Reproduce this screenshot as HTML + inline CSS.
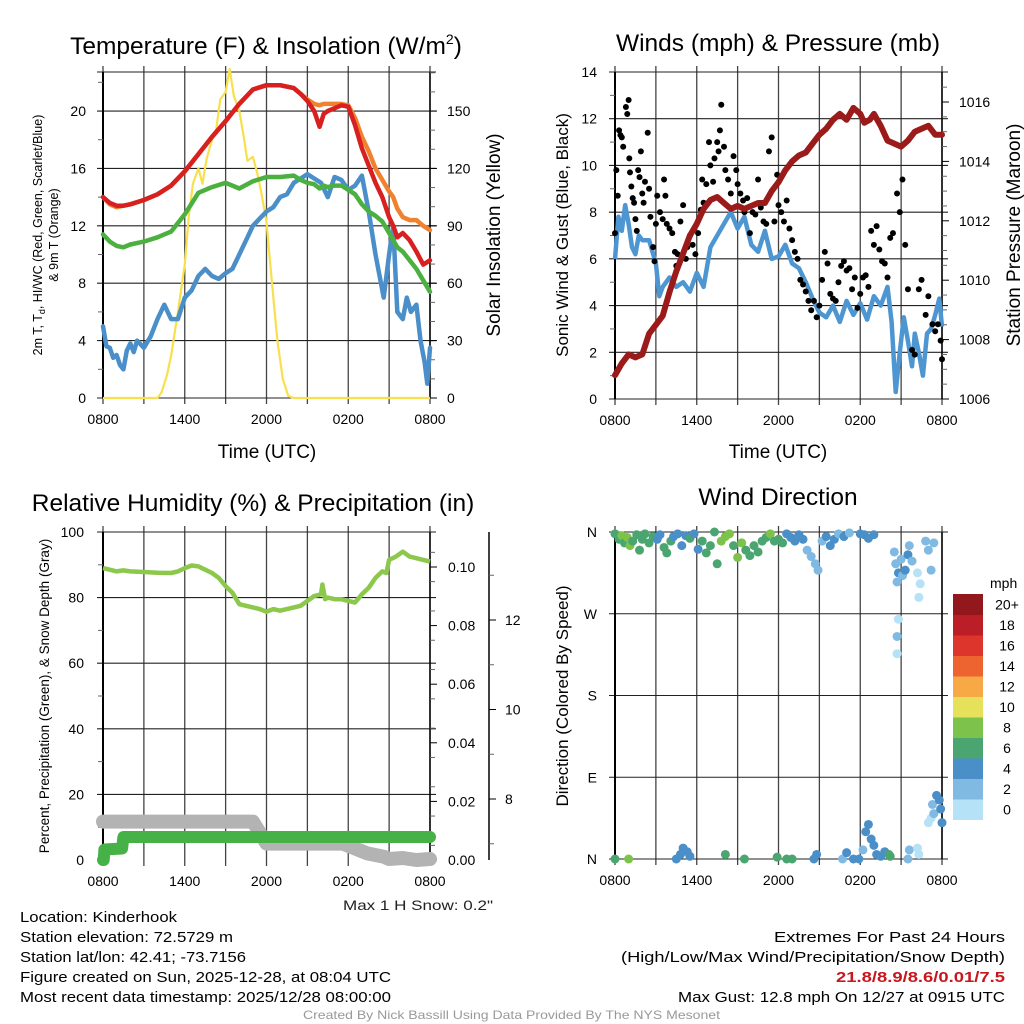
<!DOCTYPE html>
<html><head><meta charset="utf-8"><style>
html,body{margin:0;padding:0;background:#fff;}
svg{display:block;font-family:"Liberation Sans",sans-serif;}
</style></head><body>
<svg id="chart" width="1024" height="1024" viewBox="0 0 1024 1024" xmlns="http://www.w3.org/2000/svg">
<rect width="1024" height="1024" fill="#fff"/>
<g id="g1"></g>
<g id="g2"></g>
<g id="g3"></g>
<g id="g4"></g>
<text x="266" y="54" font-size="24.5" text-anchor="middle">Temperature (F) &amp; Insolation (W/m<tspan dy="-10" font-size="14">2</tspan><tspan dy="10">)</tspan></text>
<text x="778" y="51" font-size="24.5" text-anchor="middle">Winds (mph) &amp; Pressure (mb)</text>
<text x="253" y="511" font-size="24.5" text-anchor="middle">Relative Humidity (%) &amp; Precipitation (in)</text>
<text x="778" y="505" font-size="24.5" text-anchor="middle">Wind Direction</text>
<text x="343" y="910" font-size="14" textLength="150" lengthAdjust="spacingAndGlyphs" fill="#222">Max 1 H Snow: 0.2"</text>
<g font-size="15" fill="#000">
<text x="20" y="922" textLength="157" lengthAdjust="spacingAndGlyphs">Location: Kinderhook</text>
<text x="20" y="942" textLength="213" lengthAdjust="spacingAndGlyphs">Station elevation: 72.5729 m</text>
<text x="20" y="962" textLength="226" lengthAdjust="spacingAndGlyphs">Station lat/lon: 42.41; -73.7156</text>
<text x="20" y="982" textLength="371" lengthAdjust="spacingAndGlyphs">Figure created on Sun, 2025-12-28, at 08:04 UTC</text>
<text x="20" y="1002" textLength="371" lengthAdjust="spacingAndGlyphs">Most recent data timestamp: 2025/12/28 08:00:00</text>
</g>
<g font-size="15">
<text x="774" y="942" textLength="231" lengthAdjust="spacingAndGlyphs">Extremes For Past 24 Hours</text>
<text x="621" y="962" textLength="384" lengthAdjust="spacingAndGlyphs">(High/Low/Max Wind/Precipitation/Snow Depth)</text>
<text x="836" y="982" textLength="169" lengthAdjust="spacingAndGlyphs" fill="#c8161d" font-weight="bold">21.8/8.9/8.6/0.01/7.5</text>
<text x="678" y="1002" textLength="327" lengthAdjust="spacingAndGlyphs">Max Gust: 12.8 mph On 12/27 at 0915 UTC</text>
</g>
<text x="303" y="1019" font-size="12" textLength="417" lengthAdjust="spacingAndGlyphs" fill="#999">Created By Nick Bassill Using Data Provided By The NYS Mesonet</text>
</svg>
<script>
// ---------- DATA ----------
const timeTickLabels = ["0800","1400","2000","0200","0800"];
const tempHours = [0,0.5,1,1.5,2,3,4,5,6,7,8,9,10,11,12,13,14,14.5,15,15.5,15.9,16.2,16.5,17,17.5,18,18.5,19,19.5,20,20.5,21,21.3,21.6,22,22.5,23,23.5,24];
const redTemp = [14,13.6,13.4,13.4,13.5,13.8,14.2,14.8,15.8,17,18.2,19.3,20.5,21.5,21.8,21.8,21.6,21.2,20.7,20,18.9,19.8,20,20.2,20.4,20.3,19,17.4,16.2,15,14,12.6,12,11.2,11.5,11,10.2,9.3,9.6];
const orangeTemp = [14,13.5,13.3,13.4,13.5,13.8,14.2,14.8,15.8,17,18.2,19.3,20.5,21.5,21.8,21.8,21.6,21.2,20.8,20.5,20.4,20.5,20.5,20.5,20.5,20.4,19.5,18.2,17.2,16,15.2,14.4,14,13.2,12.6,12.4,12.4,12,11.7];
const greenTemp = [11.4,10.9,10.6,10.5,10.7,10.9,11.2,11.6,12.8,14.3,14.7,15,14.6,15.1,15.4,15.4,15.5,15.2,15,14.9,14.6,14.8,14.7,14.8,14.8,14.5,14.2,13.5,13,12.7,12.3,11.5,11,10.5,10.2,9.6,9,8.2,7.4];
const dewHours = [0,0.25,0.5,0.75,1,1.25,1.5,1.75,2,2.25,2.5,3,3.5,4,4.5,5,5.5,6,6.5,7,7.5,8,8.5,9,9.5,10,10.5,11,11.5,12,12.5,13,13.5,14,14.5,15,15.5,16,16.5,17,17.5,18,18.5,19,19.5,20,20.3,20.6,21,21.3,21.6,22,22.3,22.6,23,23.3,23.6,23.8,24];
const dewValues = [5,3.6,3.5,2.8,3,2.3,2,3.3,3.8,3.2,4,3.5,4.3,5.5,6.5,5.5,5.5,7,7.5,8.5,9,8.5,8.3,8.7,9,10,11,12,12.5,13,13.3,14,14.2,15,15.3,15.6,15.3,15,14,15.4,15.2,14.5,14.8,15.5,13,10,8.5,7,10,12,6,5.5,7,6,6.5,4,2.5,1,3.5];
const solarHours = [0,4,4.3,4.7,5,5.5,6,6.3,6.6,7,7.3,7.6,8,8.3,8.6,9,9.3,9.6,10,10.3,10.6,11,11.3,11.6,12,12.4,12.8,13.2,13.6,14,24];
const solarValues = [0,0,3,12,22,45,70,95,112,120,112,125,135,140,156,160,172,158,150,138,124,126,118,108,92,60,30,10,1,0,0];
const tempLeftTicks = [0,4,8,12,16,20];
const solarRightTicks = [0,30,60,90,120,150];

const windHours = [0,0.25,0.5,0.75,1,1.25,1.5,1.75,2,2.5,3,3.25,3.5,4,4.5,5,5.5,6,6.5,7,7.5,8,8.5,9,9.5,10,10.5,11,11.5,12,12.5,13,13.5,14,14.5,15,15.5,16,16.5,17,17.5,18,18.5,19,19.5,20,20.3,20.6,20.9,21.2,21.5,21.8,22,22.3,22.6,22.9,23.2,23.5,23.8,24];
const windValues = [6,7.8,7.2,8.3,7.5,6.5,6.2,7,6.8,6.8,5.8,4.4,4.8,5.2,4.8,5,4.6,5.4,4.8,6.5,7,7.5,8,7.3,7.8,6.6,6.3,7.2,6,6.1,6.6,5.8,5.6,5,4.3,3.7,3.5,4,3.3,4.2,3.6,4.1,3.4,4.4,4,4.8,3.3,0.3,2,3.5,2.5,1.4,2.8,2,1,2.8,3,3.6,4.3,3.1];
const pressHours = [0,0.5,1,1.5,2,2.5,3,3.5,4,4.5,5,5.5,6,6.5,7,7.5,8,8.5,9,9.5,10,10.5,11,11.5,12,12.5,13,13.5,14,14.5,15,15.5,16,16.5,17,17.5,18,18.3,18.7,19,19.5,20,20.5,21,21.5,22,22.5,23,23.5,24];
const pressValues = [1006.8,1007.2,1007.5,1007.4,1007.5,1008.2,1008.5,1008.8,1009.6,1010.3,1010.9,1011.5,1011.9,1012.4,1012.7,1012.8,1012.6,1012.4,1012.5,1012.4,1012.5,1012.6,1012.6,1013,1013.3,1013.7,1014,1014.2,1014.3,1014.6,1014.9,1015.1,1015.4,1015.6,1015.4,1015.8,1015.6,1015.3,1015.4,1015.6,1015.2,1014.7,1014.6,1014.5,1014.7,1015,1015.1,1015.2,1014.9,1014.9];
const gustHours = [0,0.1,0.2,0.3,0.4,0.5,0.6,0.8,0.9,1.0,1.05,1.1,1.2,1.3,1.4,1.5,1.6,1.7,1.8,1.9,2.0,2.1,2.2,2.4,2.5,2.6,2.8,2.9,3.0,3.1,3.3,3.5,3.6,3.7,3.8,4.0,4.2,4.4,4.5,4.6,4.8,5.0,5.2,5.3,5.5,5.7,5.9,6.1,6.3,6.4,6.5,6.7,6.9,7.0,7.2,7.3,7.5,7.6,7.7,7.8,8.0,8.1,8.3,8.5,8.7,8.9,9.0,9.2,9.4,9.5,9.7,9.9,10.1,10.3,10.5,10.7,10.9,11.1,11.3,11.5,11.7,11.9,12.0,12.2,12.4,12.6,12.8,13.0,13.2,13.4,13.6,13.8,14.0,14.2,14.4,14.6,14.8,15.0,15.2,15.4,15.6,15.8,16.0,16.2,16.4,16.6,16.8,17.0,17.2,17.4,17.6,17.8,18.0,18.2,18.4,18.6,18.8,19.0,19.2,19.4,19.6,19.8,20.0,20.2,20.4,20.7,20.9,21.1,21.3,21.5,21.8,22.0,22.3,22.5,22.8,23.0,23.3,23.5,23.7,23.9,24];
const gustValues = [7.1,9.8,8.7,11.5,11.3,11.2,10.8,12.5,12.2,12.8,10.3,9.7,9.1,8.6,8.4,7.7,7.2,9.8,9.5,10.6,8.8,8.4,9.3,11.4,9.0,7.8,6.5,5.9,7.5,8.7,8.0,7.7,9.4,8.7,7.5,7.3,7.1,6.3,5.7,6.2,7.6,8.3,6.0,6.5,7.0,6.6,6.2,7.1,8.1,9.4,8.4,9.2,11.0,10.0,9.3,10.3,11.0,10.6,11.5,12.6,10.8,9.8,9.4,8.8,10.4,9.8,9.2,8.8,8.5,8.0,8.6,7.1,8.0,7.9,9.4,8.2,7.6,7.5,10.6,11.2,7.6,9.6,8.3,8.0,7.6,8.5,7.3,6.8,6.3,6.0,5.1,4.9,4.6,4.2,3.8,4.2,3.5,4.0,5.1,6.3,5.8,4.5,4.3,4.2,5.0,5.7,5.9,5.5,5.6,4.7,5.2,3.9,4.5,5.2,5.3,4.8,7.2,6.6,7.4,6.4,5.9,5.8,5.2,6.9,7.1,8.8,8.0,9.4,6.6,4.7,2.1,1.9,4.7,5.1,3.6,4.4,3.2,2.9,3.2,2.5,1.7,2.8,3.6,4.8,5.4,6.1,4.8,6.1];
const windLeftTicks = [0,2,4,6,8,10,12,14];
const pressRightTicks = [1006,1008,1010,1012,1014,1016];

const rhHours = [0,0.5,1,1.5,2,3,4,5,5.5,6,6.5,7,7.5,8,8.5,9,9.5,10,10.5,11,11.5,12,12.5,13,13.5,14,14.5,15,15.5,16,16.1,16.3,16.5,17,17.5,18,18.5,19,19.5,20,20.5,20.8,21,21.5,22,22.5,23,23.5,24];
const rhValues = [89,88.5,88,88.3,88,87.8,87.6,87.5,88,89,89.8,89.5,88.5,87.5,86,83.5,81.5,78,77.5,77,76.5,75.7,76.5,76,76.5,77,77.5,79,80.5,81,84,79.5,80,79.5,79.5,79,78.5,81,83,86,88,87.5,91.5,92.5,94,92.5,92,91.5,91];
const precipHours = [0,0.05,0.1,1.4,1.5,24];
const precipValues = [0,0,3.2,3.5,7,7];
const snowHours = [0,11,12,17.6,18.5,19.4,20.6,21,22,23,24];
const snowValues = [11.7,11.7,5,5,3.5,2,1,0.3,0.6,0,0.3];
const rhLeftTicks = [0,20,40,60,80,100];
const precipRightTicks = ["0.00","0.02","0.04","0.06","0.08","0.10"];
const snowAxisTicks = [8,10,12];

const dirHours = [0,0.3,0.5,0.7,0.9,1.1,1.3,1.6,1.8,2.0,2.2,2.5,2.8,3.1,3.3,3.6,3.8,4.1,4.3,4.6,4.9,5.2,5.5,5.8,6.1,6.4,6.7,7.0,7.3,7.5,7.8,8.1,8.4,8.7,9.0,9.3,9.6,9.9,10.2,10.5,10.8,11.1,11.4,11.7,12.0,12.3,12.6,12.9,13.2,13.5,13.8,14.1,14.4,14.7,14.9,15.2,15.5,15.8,16.1,16.4,16.8,17.2,18.0,18.3,18.6,19.0,20.5,20.6,20.7,20.8,21.0,21.1,21.3,21.5,21.6,21.8,22.2,22.4,22.3,22.8,23.0,23.2,23.4,20.8,20.7,20.7,0,1,4.5,4.8,5.0,5.3,5.5,8.1,9.5,11.9,12.6,13.0,14.6,14.8,16.7,17.0,17.5,17.9,18.2,18.4,18.6,18.8,19.0,19.2,19.5,19.8,20.1,20.2,21.5,21.6,22.2,22.3,23.0,23.2,23.3,23.4,23.6,23.8,23.9,24.0];
const dirDegrees = [358,352,356,348,354,345,350,357,340,352,358,348,355,352,357,343,337,350,355,358,345,356,353,358,341,350,337,345,360,325,350,355,358,345,332,348,340,334,345,338,350,354,358,350,352,348,358,354,350,357,352,340,333,325,318,350,355,345,352,358,355,359,358,357,353,357,338,325,305,315,330,312,318,335,345,328,315,303,288,350,340,318,348,264,245,226,0,0,0,5,12,8,3,5,0,2,0,0,0,5,0,7,0,0,10,30,38,22,15,5,3,8,5,3,0,10,12,5,40,45,60,50,70,65,55,40];
const dirSpeeds = [6,7,8,7,8,8,7,6,6,6,7,6,6,4,4,6,6,6,4,4,4,4,6,4,4,6,6,6,7,6,8,8,8,7,8,8,6,6,6,6,6,6,8,6,6,7,4,4,4,4,4,2,2,2,2,2,4,4,4,2,4,2,4,4,4,4,2,2,2,4,2,2,4,4,2,2,0,0,0,2,2,2,2,0,2,0,6,8,4,4,4,4,4,6,6,6,6,6,4,4,2,4,4,4,2,4,4,4,4,4,4,4,6,6,2,2,0,0,0,0,2,2,4,4,4,4];
const dirTickLabels = ["N","E","S","W","N"];
const speedBinLabels = ["0","2","4","6","8","10","12","14","16","18","20+"];
const speedBinColors = ["#b5e2f6","#80bae3","#4a8fc7","#4aa570","#7cc24b","#e6e15a","#f6a945","#ee6430","#dd352b","#bb1e27","#92181c"];

// ---------- HELPERS ----------
const NS = "http://www.w3.org/2000/svg";
function mk(tag, attrs, parent){const e=document.createElementNS(NS,tag);for(const k in attrs)e.setAttribute(k,attrs[k]);parent.appendChild(e);return e;}
function txt(str, attrs, parent){const e=mk("text",attrs,parent);e.textContent=str;return e;}
function xs(x0,x1){return h=>x0+(h/24)*(x1-x0);}
function lin(d0,d1,r0,r1){return v=>r0+(v-d0)/(d1-d0)*(r1-r0);}
function poly(hs,vs,X,Y){return hs.map((h,i)=>X(h).toFixed(1)+","+Y(vs[i]).toFixed(1)).join(" ");}

function frame(g, X0, X1, Y0, Y1, hGridYs){
  for(let k=0;k<=8;k++){
    const x=X0+k*(X1-X0)/8;
    const l=mk("line",{x1:x,y1:Y0-6,x2:x,y2:Y1+6,stroke:"#444","stroke-width":1.3},g);
    
    
  }
  hGridYs.forEach(y=>{
    const l=mk("line",{x1:X0-6,y1:y,x2:X1+6,y2:y,stroke:"#222","stroke-width":1.1},g);
    
    
  });
  const ax=mk("line",{x1:X0,y1:Y0,x2:X0,y2:Y1,stroke:"#000","stroke-width":2},g);
  
  
  const ax2=mk("line",{x1:X1,y1:Y0,x2:X1,y2:Y1,stroke:"#000","stroke-width":1.5},g);
  
  
  timeTickLabels.forEach((s,i)=>{
    const t=txt(s,{x:X0+i*(X1-X0)/4,y:Y1+26,"font-size":14,"text-anchor":"middle"},g);
    
    
  });
}
function minorTicks(g,x,ys,dir){
  ys.forEach(y=>{
    const l=mk("line",{x1:x,y1:y,x2:x+dir*5,y2:y,stroke:"#666","stroke-width":1},g);
    
    
  });
}

// ---------- PANEL 1 ----------
(function(){
  const g=document.getElementById("g1");
  const X=xs(103,430), Y=lin(0,22.72,398,72), YS=lin(0,170.4,398,72);
  frame(g,103,430,72,398,tempLeftTicks.map(Y).concat([72]));
  minorTicks(g,103,[2,6,10,14,18,22].map(Y),-1);
  minorTicks(g,430,[10,20,40,50,70,80,100,110,130,140,160,170].map(YS),1);
  solarRightTicks.forEach(v=>{const l=mk("line",{x1:430,y1:YS(v),x2:437,y2:YS(v),stroke:"#000"},g);
    
    
    const t=txt(String(v),{x:447,y:YS(v)+5,"font-size":14},g);
    
    });
  tempLeftTicks.forEach(v=>{const t=txt(String(v),{x:86,y:Y(v)+5,"font-size":14,"text-anchor":"end"},g);
    
    });
  const s=mk("polyline",{points:poly(solarHours,solarValues,X,YS),fill:"none",stroke:"#f8e04d","stroke-width":2.2,"stroke-linejoin":"round"},g);
  
  
  const series=[[dewHours,dewValues,"#4a8fca","dewpoint-line"],[tempHours,greenTemp,"#4cb040","heat-index-line"],[tempHours,orangeTemp,"#f0822f","9m-temp-line"],[tempHours,redTemp,"#d7201f","2m-temp-line"]];
  series.forEach(([hs,vs,c,n])=>{const p=mk("polyline",{points:poly(hs,vs,X,Y),fill:"none",stroke:c,"stroke-width":4.5,"stroke-linejoin":"round","stroke-linecap":"round"},g);
    
    });
  const t1=txt("Time (UTC)",{x:267,y:458,"font-size":19,"text-anchor":"middle"},g);
  
  
  const yt=txt("",{transform:"translate(42,235) rotate(-90)","font-size":12.5,"text-anchor":"middle"},g);
  yt.innerHTML='2m T, T<tspan font-size="9" dy="3">d</tspan><tspan dy="-3">, HI/WC (Red, Green, Scarlet/Blue)</tspan>';
  
  
  const yt2=txt("& 9m T (Orange)",{transform:"translate(58,235) rotate(-90)","font-size":12.5,"text-anchor":"middle"},g);
  
  
  const yr=txt("Solar Insolation (Yellow)",{transform:"translate(500,235) rotate(-90)","font-size":19,"text-anchor":"middle"},g);
  
  
})();

// ---------- PANEL 2 ----------
(function(){
  const g=document.getElementById("g2");
  const X=xs(615,942), Y=lin(0,14,399,72), YP=lin(1006,1016,399,102);
  frame(g,615,942,72,399,windLeftTicks.map(Y));
  minorTicks(g,615,[1,3,5,7,9,11,13].map(Y),-1);
  minorTicks(g,942,[1006.5,1007,1007.5,1008.5,1009,1009.5,1010.5,1011,1011.5,1012.5,1013,1013.5,1014.5,1015,1015.5,1016.5].map(YP),1);
  pressRightTicks.forEach(v=>{const l=mk("line",{x1:942,y1:YP(v),x2:949,y2:YP(v),stroke:"#000"},g);
    
    
    const t=txt(String(v),{x:959,y:YP(v)+5,"font-size":14},g);
    
    });
  windLeftTicks.forEach(v=>{const t=txt(String(v),{x:597,y:Y(v)+5,"font-size":14,"text-anchor":"end"},g);
    
    });
  const w=mk("polyline",{points:poly(windHours,windValues,X,Y),fill:"none",stroke:"#4e96d2","stroke-width":4.5,"stroke-linejoin":"round"},g);
  
  
  gustHours.forEach((h,i)=>{const c=mk("circle",{cx:X(h),cy:Y(gustValues[i]),r:3,fill:"#000"},g);
    
    });
  const p=mk("polyline",{points:poly(pressHours,pressValues,X,YP),fill:"none",stroke:"#9b1b1b","stroke-width":6,"stroke-linejoin":"round","stroke-linecap":"round"},g);
  
  
  const t1=txt("Time (UTC)",{x:778,y:458,"font-size":19,"text-anchor":"middle"},g);
  
  
  const yl=txt("Sonic Wind & Gust (Blue, Black)",{transform:"translate(568,235) rotate(-90)","font-size":17,"text-anchor":"middle"},g);
  
  
  const yr=txt("Station Pressure (Maroon)",{transform:"translate(1020,235) rotate(-90)","font-size":19,"text-anchor":"middle"},g);
  
  
})();

// ---------- PANEL 3 ----------
(function(){
  const g=document.getElementById("g3");
  const X=xs(103,430), Y=lin(0,100,860,532), YPR=lin(0,0.1,860,567), YSN=lin(8,12,799,620);
  frame(g,103,430,532,860,[80,60,40,20].map(Y).concat([532]));
  minorTicks(g,103,[10,30,50,70,90].map(Y),-1);
  minorTicks(g,430,[0.005,0.015,0.025,0.035,0.045,0.055,0.065,0.075,0.085,0.095,0.105].map(YPR),1);
  precipRightTicks.forEach((s,i)=>{const yy=YPR(i*0.02);const l=mk("line",{x1:430,y1:yy,x2:437,y2:yy,stroke:"#000"},g);
    
    
    const t=txt(s,{x:448,y:yy+5,"font-size":14},g);
    
    });
  rhLeftTicks.forEach(v=>{const t=txt(String(v),{x:84,y:Y(v)+5,"font-size":14,"text-anchor":"end"},g);
    
    });
  const sa=mk("line",{x1:489,y1:532,x2:489,y2:860,stroke:"#000","stroke-width":1.5},g);
  
  
  minorTicks(g,489,[7,9,11,13].map(YSN),1);
  snowAxisTicks.forEach(v=>{const l=mk("line",{x1:489,y1:YSN(v),x2:496,y2:YSN(v),stroke:"#000"},g);
    
    
    const t=txt(String(v),{x:505,y:YSN(v)+5,"font-size":14},g);
    
    });
  const sn=mk("polyline",{points:poly(snowHours,snowValues,X,Y),fill:"none",stroke:"#b3b3b3","stroke-width":14,"stroke-linejoin":"round","stroke-linecap":"round"},g);
  
  
  const pr=mk("polyline",{points:poly(precipHours,precipValues,X,Y),fill:"none",stroke:"#46b146","stroke-width":12,"stroke-linejoin":"round","stroke-linecap":"round"},g);
  
  
  const rh=mk("polyline",{points:poly(rhHours,rhValues,X,Y),fill:"none",stroke:"#8cc84b","stroke-width":4.5,"stroke-linejoin":"round"},g);
  
  
  const yl=txt("Percent, Precipitation (Green), & Snow Depth (Gray)",{transform:"translate(49,696) rotate(-90)","font-size":13.5,"text-anchor":"middle"},g);
  
  
})();

// ---------- PANEL 4 ----------
(function(){
  const g=document.getElementById("g4");
  const X=xs(615,942), Y=lin(0,360,859,532);
  frame(g,615,942,532,859,[0,90,180,270,360].map(Y));
  dirTickLabels.forEach((s,i)=>{const t=txt(s,{x:597,y:Y(i*90)+5,"font-size":14,"text-anchor":"end"},g);
    
    });
  dirHours.forEach((h,i)=>{const bin=Math.min(10,Math.floor(dirSpeeds[i]/2));
    const c=mk("circle",{cx:X(h),cy:Y(dirDegrees[i]),r:4.5,fill:speedBinColors[bin]},g);
    
    });
  const yl=txt("Direction (Colored By Speed)",{transform:"translate(568,696) rotate(-90)","font-size":17,"text-anchor":"middle"},g);
  
  
  const u=txt("mph",{x:990,y:588,"font-size":14},g);
  
  
  const bh=20.5, top=594;
  speedBinLabels.forEach((s,i)=>{const yy=top+(10-i)*bh;
    const r=mk("rect",{x:953,y:yy,width:30,height:bh+0.5,fill:speedBinColors[i]},g);
    
    
    const t=txt(s,{x:1007,y:yy+bh/2+5,"font-size":14,"text-anchor":"middle"},g);
    
    });
})();
</script>
</body></html>
